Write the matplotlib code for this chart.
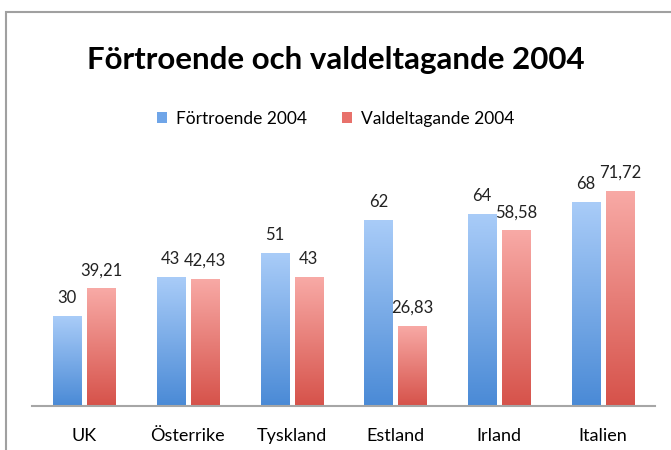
import numpy as np
import matplotlib
matplotlib.use('Agg')
import matplotlib.pyplot as plt
from matplotlib.colors import LinearSegmentedColormap
from matplotlib.patches import Patch, Rectangle

countries = ['UK', 'Österrike', 'Tyskland', 'Estland', 'Irland', 'Italien']
fortroende = [30, 43, 51, 62, 64, 68]
valdeltagande = [39.21, 42.43, 43, 26.83, 58.58, 71.72]
fort_labels = ['30', '43', '51', '62', '64', '68']
vald_labels = ['39,21', '42,43', '43', '26,83', '58,58', '71,72']

plt.rcParams['font.family'] = ['Lato', 'DejaVu Sans']

fig = plt.figure(figsize=(6.71, 4.5), dpi=100)
ax = fig.add_axes([32/671, 44/450, 623/671, 240/450])

blue_cm = LinearSegmentedColormap.from_list('b', ['#4a8ad6', '#a9ccf8'])
red_cm = LinearSegmentedColormap.from_list('r', ['#d6524a', '#f8aaa6'])

x = np.arange(len(countries))
w = 0.27
gap = 0.058
b1 = ax.bar(x - (w + gap) / 2, fortroende, w, color='none')
b2 = ax.bar(x + (w + gap) / 2, valdeltagande, w, color='none')

# gradient fill, clipped to each bar
grad = np.linspace(0, 1, 256).reshape(-1, 1)
for bars, cm in ((b1, blue_cm), (b2, red_cm)):
    for p in bars:
        x0, y0 = p.get_x(), p.get_y()
        im = ax.imshow(grad, cmap=cm, origin='lower', aspect='auto',
                       extent=[x0, x0 + p.get_width(), y0, y0 + p.get_height()],
                       zorder=2)
        im.set_clip_path(p)

for bars, labs in ((b1, fort_labels), (b2, vald_labels)):
    for p, t in zip(bars, labs):
        ax.annotate(t, (p.get_x() + p.get_width() / 2, p.get_height()),
                    xytext=(0, 7), textcoords='offset points',
                    ha='center', va='bottom', fontsize=12, color='#222222')

ax.set_xlim(-0.5, len(countries) - 0.5)
ax.set_ylim(0, 80)
ax.set_xticks(x)
ax.set_xticklabels(countries, fontsize=13)
ax.tick_params(axis='x', length=0, pad=16)
ax.set_yticks([])
for s in ['top', 'right', 'left']:
    ax.spines[s].set_visible(False)
ax.spines['bottom'].set_color('#a6a6a6')
ax.spines['bottom'].set_linewidth(1.5)
ax.spines['bottom'].set_zorder(3)

fig.text(0.5, 1 - 60/450, 'Förtroende och valdeltagande 2004',
         ha='center', va='center', fontsize=22.5, fontweight='bold')

handles = [Patch(facecolor='#6fa5e8', label='Förtroende 2004'),
           Patch(facecolor='#e8716b', label='Valdeltagande 2004')]
fig.legend(handles=handles, loc='center', bbox_to_anchor=(0.5, 1 - 119/450),
           ncol=2, frameon=False, fontsize=12.5, handlelength=0.6,
           handleheight=0.6, handletextpad=0.5, columnspacing=2.0)

fig.patches.append(Rectangle((6/671, -0.1), 1.2, 1.1 - 12/450,
                             transform=fig.transFigure, fill=False,
                             edgecolor='#a0a0a0', linewidth=1.5))

fig.savefig('out.png', dpi=100)
